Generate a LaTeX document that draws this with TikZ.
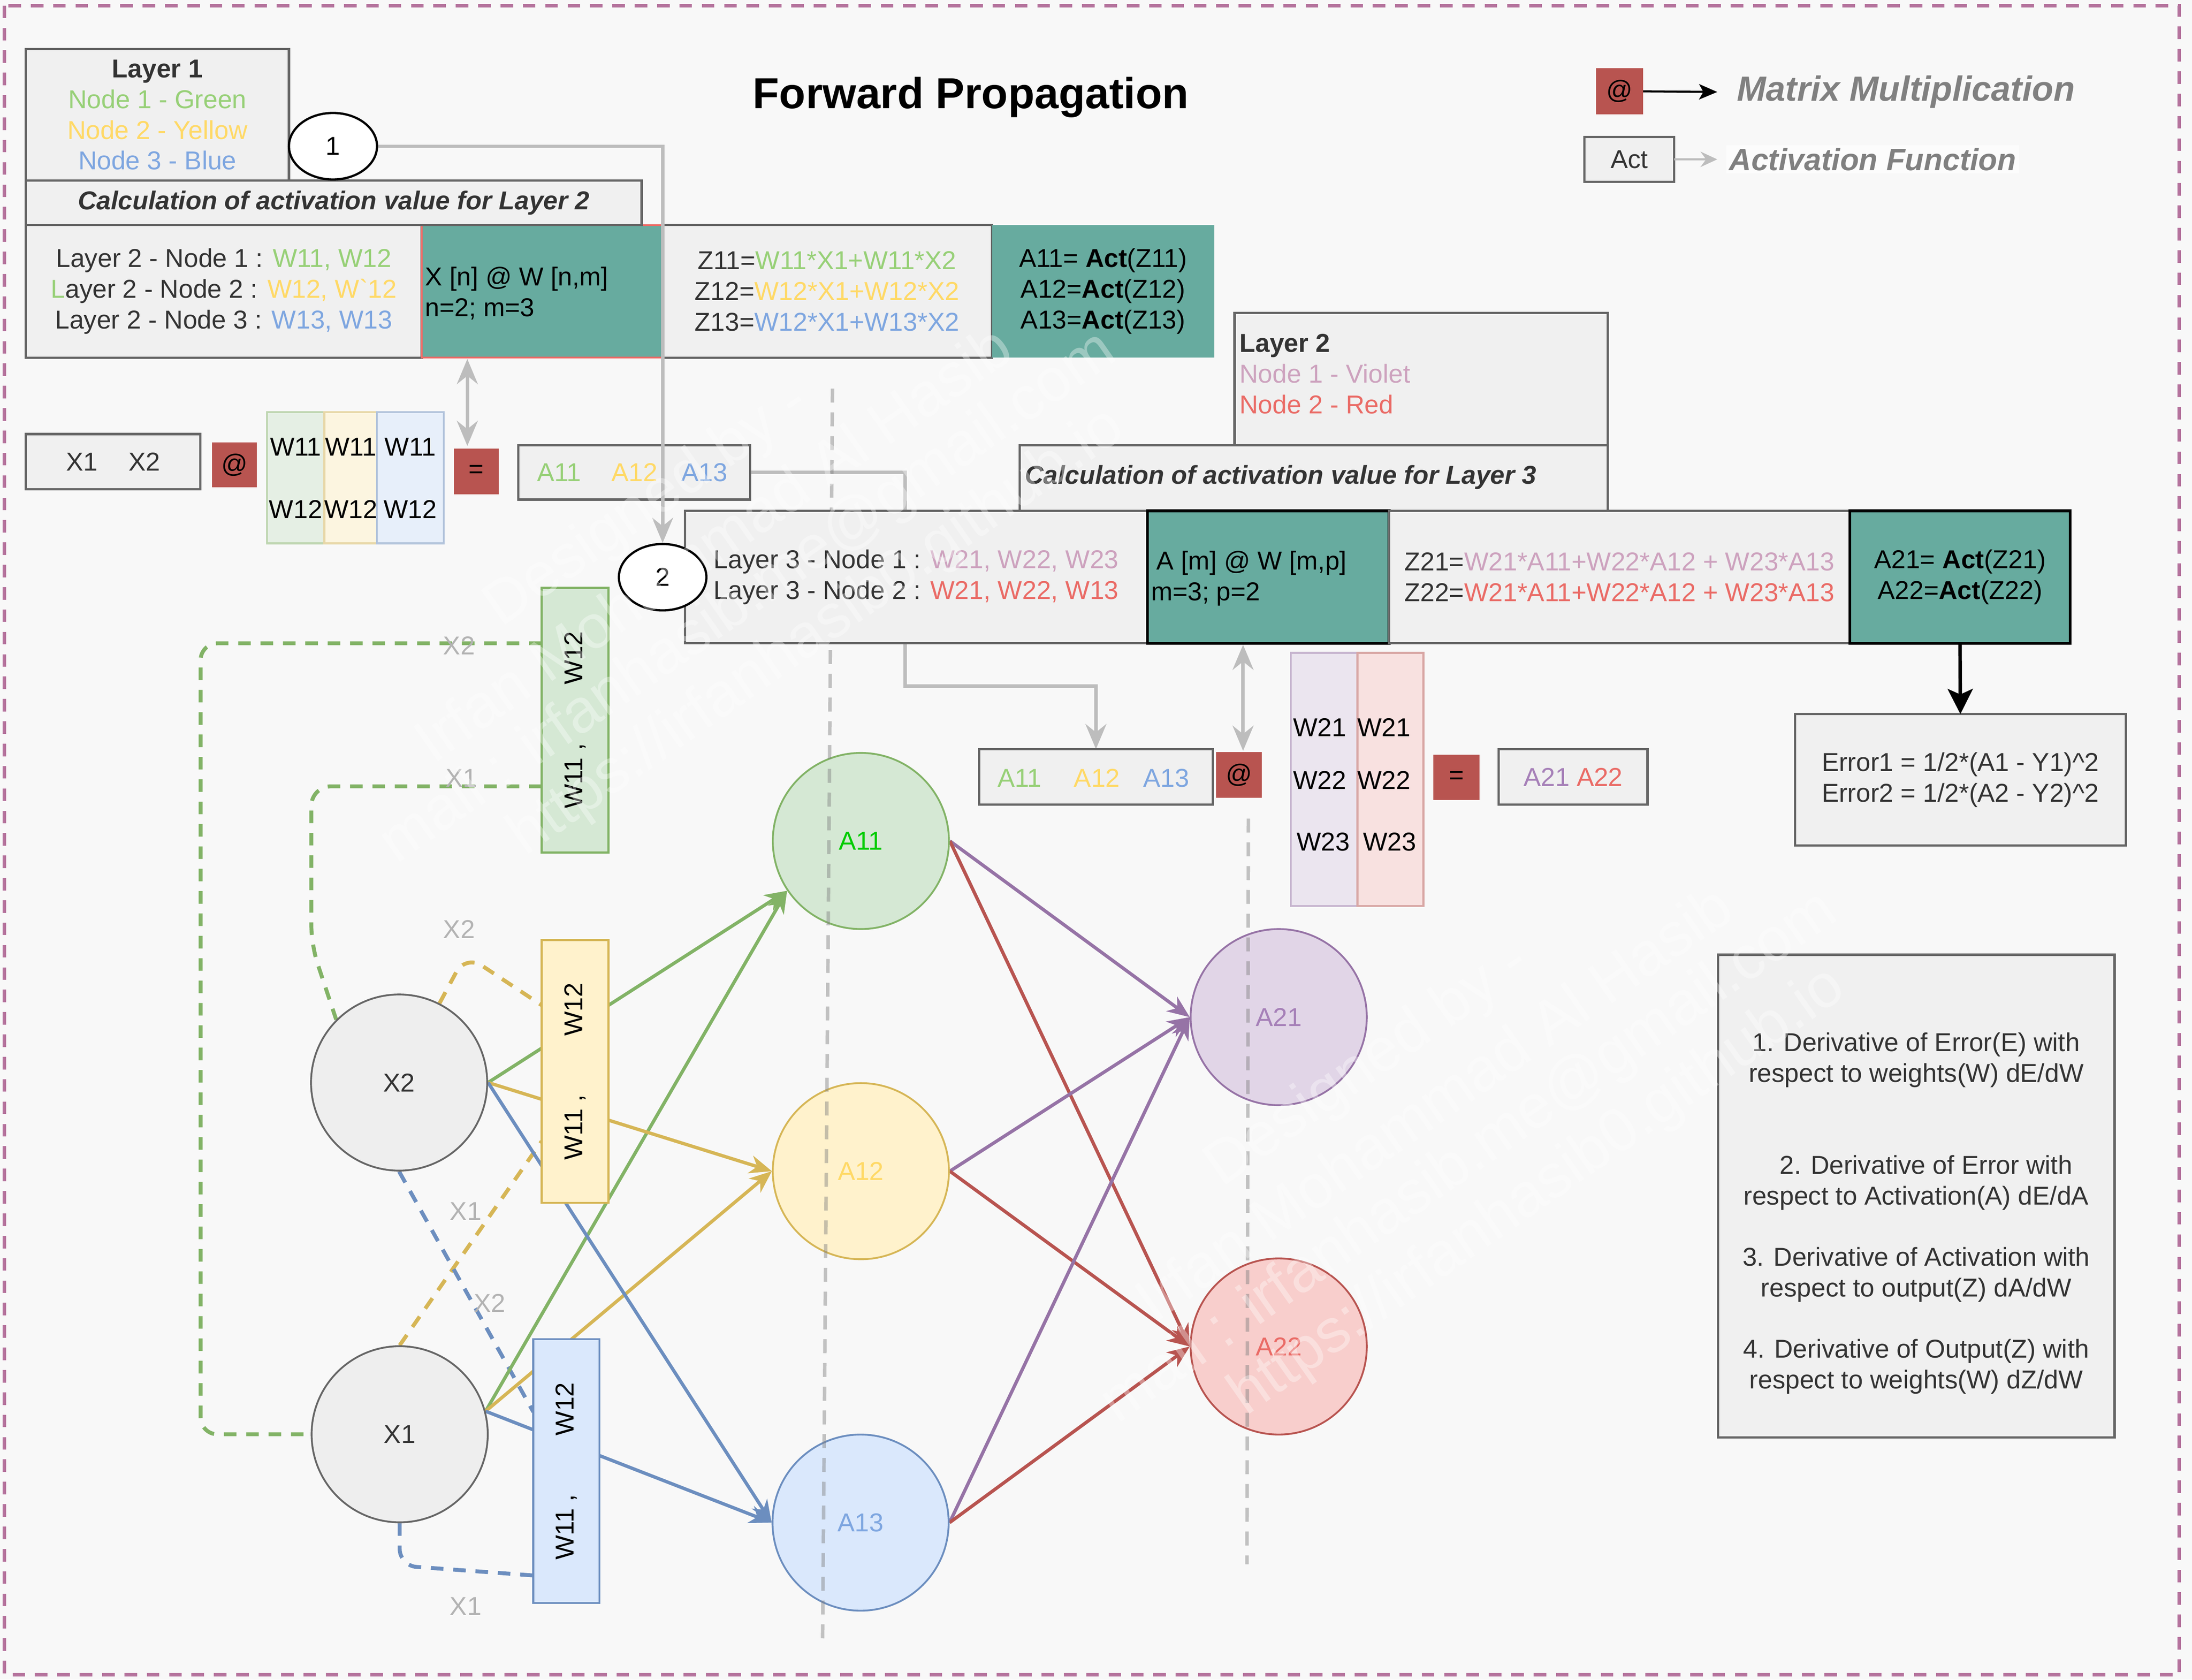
\documentclass[tikz,border=0pt]{standalone}
\usepackage{fontspec}
\setmainfont{Liberation Sans}[Ligatures=TeXOff]
\usetikzlibrary{arrows.meta,shapes.geometric}
\definecolor{cBg}{HTML}{F8F8F8}
\definecolor{cBox}{HTML}{F0F0F0}
\definecolor{cLine}{HTML}{666666}
\definecolor{cDark}{HTML}{333333}
\definecolor{cTeal}{HTML}{67AB9F}
\definecolor{cRedBox}{HTML}{B85450}
\definecolor{cRedLine}{HTML}{EA6B66}
\definecolor{tGreen}{HTML}{97D077}
\definecolor{tYellow}{HTML}{FFD966}
\definecolor{tBlue}{HTML}{7EA6E0}
\definecolor{tViolet}{HTML}{CDA2BE}
\definecolor{tRed}{HTML}{EA6B66}
\definecolor{gFill}{HTML}{D5E8D4}\definecolor{gLine}{HTML}{82B366}
\definecolor{yFill}{HTML}{FFF2CC}\definecolor{yLine}{HTML}{D6B656}
\definecolor{bFill}{HTML}{DAE8FC}\definecolor{bLine}{HTML}{6C8EBF}
\definecolor{pFill}{HTML}{E1D5E7}\definecolor{pLine}{HTML}{9673A6}
\definecolor{rFill}{HTML}{F8CECC}\definecolor{rLine}{HTML}{B85450}
\definecolor{xFill}{HTML}{EEEEEE}
\definecolor{tAoo}{HTML}{00CC00}
\definecolor{tAto}{HTML}{A680B8}
\definecolor{cBorder}{HTML}{B5739D}
\definecolor{cLegend}{HTML}{808080}
\definecolor{cConn}{HTML}{BDBDBD}
\definecolor{cLab}{HTML}{B3B3B3}
\newcommand{\myfs}{\fontsize{18.5}{22}\selectfont}
\pgfdeclarelayer{bgl}
\pgfdeclarelayer{behind}
\pgfsetlayers{bgl,behind,main}
\begin{document}
\begin{tikzpicture}[x=1pt,y=-1pt,font=\myfs,
  box/.style={draw=cLine,fill=cBox,line width=1.6pt,anchor=north west,inner sep=0pt,outer sep=0pt,text=cDark},
  tealcell/.style={fill=cTeal,anchor=north west,inner sep=0pt,outer sep=0pt,text=black},
  redsq/.style={fill=cRedBox,anchor=north west,inner sep=0pt,outer sep=0pt,text=black},
  colcell/.style={anchor=north west,inner sep=0pt,outer sep=0pt,line width=1.4pt},
  txt/.style={inner sep=0pt,text=cDark},
  circ/.style={circle,minimum size=126pt,inner sep=0pt,line width=1.3pt},
  netarrow/.style={line width=2.4pt,-{Stealth[length=16pt,width=13pt,inset=5pt]}},
  dashnet/.style={line width=2.8pt,dash pattern=on 9pt off 7pt},
  conn/.style={draw=cConn,line width=2.5pt,-{Stealth[length=18pt,width=15pt,inset=6pt]}},
  conndbl/.style={draw=cConn,line width=2.5pt,{Stealth[length=18pt,width=15pt,inset=6pt]}-{Stealth[length=18pt,width=15pt,inset=6pt]}},
  vdash/.style={draw=black!50,draw opacity=0.45,line width=2.5pt,dash pattern=on 10pt off 7pt},
  lab/.style={inner sep=0pt,text=cLab},
  wm/.style={inner sep=0pt,text=white,opacity=0.35,rotate=35,font=\fontsize{44}{48}\selectfont}]
\useasboundingbox (0,0) rectangle (1568,1201.5);
\begin{pgfonlayer}{bgl}
\fill[cBg] (0,0) rectangle (1568,1201.5);
\end{pgfonlayer}
\draw[cBorder,line width=2.5pt,dash pattern=on 9pt off 7pt] (3,4) rectangle (1559,1198);

% ---------- title and legend
\node[anchor=base,inner sep=0pt,font=\bfseries\fontsize{31}{36}\selectfont] (title) at (694.4,77.7) {Forward Propagation};
\node[redsq,minimum width=33.5pt,minimum height=33.1pt] (at3) at (1141.8,48.8) {@};
\coordinate (legA) at (1228.4,65.8);
\draw[line width=1.5pt,-{Stealth[length=13pt,width=11pt,inset=3pt]}] (at3.east) -- (legA);
\node[anchor=west,inner sep=0pt,text=cLegend,font=\bfseries\itshape\fontsize{25}{28}\selectfont] (legAt) at (1242.3,65.8) {Matrix Multiplication};
\node[box,minimum width=64.2pt,minimum height=32.1pt] (act) at (1133.4,97.9) {Act};
\coordinate (legB) at (1228.4,114);
\draw[cConn,line width=1.5pt,-{Stealth[length=12pt,width=11pt,inset=4pt]}] (act.east) -- (legB);
\node[anchor=west,inner sep=2pt,fill=white,fill opacity=0.6,text opacity=1,text=cLegend,font=\bfseries\itshape\fontsize{22}{26}\selectfont] (legBt) at (1234.7,114) {Activation Function};

% ---------- network circles
\node[circ,fill=xFill,draw=cLine,text=cDark] (X2) at (285.5,774.4) {X2};
\node[circ,fill=xFill,draw=cLine,text=cDark] (X1) at (285.9,1026) {X1};
\node[circ,fill=gFill,draw=gLine,text=tAoo] (A11) at (615.8,601.6) {A11};
\node[circ,fill=yFill,draw=yLine,text=tYellow] (A12) at (615.8,837.8) {A12};
\node[circ,fill=bFill,draw=bLine,text=tBlue] (A13) at (615.6,1089.2) {A13};
\node[circ,fill=pFill,draw=pLine,text=tAto] (A21) at (914.7,727.6) {A21};
\node[circ,fill=rFill,draw=rLine,text=tRed] (A22) at (914.7,963.2) {A22};

% ---------- gray dashed guides
\coordinate (g1a) at (595.5,278); \coordinate (g1b) at (588.4,1175);
\coordinate (g2a) at (893,585.6); \coordinate (g2b) at (892,1119);
\draw[vdash] (g1a) -- (g1b);
\draw[vdash] (g2a) -- (g2b);

% ---------- layer 1 block
\node[box,minimum width=188.2pt,minimum height=94.1pt,align=center] (layer1) at (18.5,35.1)
  {\textbf{Layer 1}\\{\color{tGreen}Node 1 - Green}\\{\color{tYellow}Node 2 - Yellow}\\{\color{tBlue}Node 3 - Blue}};
\node[box,minimum width=283.2pt,minimum height=94.8pt,align=center] (r1a) at (18.5,161)
  {Layer 2 - Node 1 : {\color{tGreen}W11, W12}\\{\color{tGreen}L}ayer 2 - Node 2 : {\color{tYellow}W12, W`12}\\Layer 2 - Node 3 : {\color{tBlue}W13, W13}};
\node[tealcell,draw=cRedLine,line width=1.4pt,minimum width=171.9pt,minimum height=94.8pt] (r1b) at (301.7,161) {};
\node[txt,text=black,anchor=west,align=left] (r1bt) at (304,209.8) {X [n] @ W [n,m]\\n=2; m=3};
\node[box,minimum width=236pt,minimum height=94.8pt,align=center] (r1c) at (473.6,161)
  {Z11={\color{tGreen}W11*X1+W11*X2}\\Z12={\color{tYellow}W12*X1+W12*X2}\\Z13={\color{tBlue}W12*X1+W13*X2}};
\node[tealcell,minimum width=158.9pt,minimum height=94.8pt,align=center] (r1d) at (709.6,161)
  {A11= \textbf{Act}(Z11)\\A12=\textbf{Act}(Z12)\\A13=\textbf{Act}(Z13)};
\node[box,minimum width=440.5pt,minimum height=31.8pt,font=\myfs\bfseries\itshape] (calc2) at (18.5,129.2)
  {Calculation of activation value for Layer 2};
\node[ellipse,draw=black,fill=white,line width=1.6pt,minimum width=63pt,minimum height=47.6pt,inner sep=0pt] (c1) at (238.2,104.6) {1};

% ---------- first matrix product
\node[box,minimum width=124.8pt,minimum height=39.4pt] (x12) at (18.5,310.5) {X1\hspace{22pt}X2};
\node[redsq,minimum width=32pt,minimum height=32.1pt] (at1) at (151.7,316.5) {@};
\node[colcell,fill=gFill!55!cBg,draw=gLine!50!cBg,minimum width=41pt,minimum height=94pt] (wc1) at (191,294.7) {};
\node[colcell,fill=yFill!55!cBg,draw=yLine!50!cBg,minimum width=37.7pt,minimum height=94pt] (wc2) at (232,294.7) {};
\node[colcell,fill=bFill!55!cBg,draw=bLine!50!cBg,minimum width=47.7pt,minimum height=94pt] (wc3) at (269.7,294.7) {};
\node[txt,text=black] at (211.5,319.8) {W11};
\node[txt,text=black] at (250.9,319.8) {W11};
\node[txt,text=black] at (293.5,319.8) {W11};
\node[txt,text=black] at (211.5,364.2) {W12};
\node[txt,text=black] at (250.9,364.2) {W12};
\node[txt,text=black] at (293.5,364.2) {W12};
\node[redsq,minimum width=32pt,minimum height=32.6pt] (eq1) at (324.7,321) {=};
\node[box,minimum width=165.7pt,minimum height=38.9pt] (a1box) at (370.8,318.5) {};
\node[txt,text=tGreen] at (400,338) {A11};
\node[txt,text=tYellow] at (454,338) {A12};
\node[txt,text=tBlue] at (504,338) {A13};
\draw[conndbl,shorten <=1pt,shorten >=2pt] (334.3,0 |- r1b.south) -- (334.3,0 |- eq1.north);

% ---------- layer 2 block
\node[box,minimum width=267pt,minimum height=94.7pt] (layer2) at (883.1,223.7) {};
\node[txt,anchor=west,align=left] (layer2t) at (886.5,267.6)
  {\textbf{Layer 2}\\{\color{tViolet}Node 1 - Violet}\\{\color{tRed}Node 2 - Red}};
\node[box,minimum width=420.6pt,minimum height=46.9pt] (calc3) at (729.5,318.4) {};
\node[txt,anchor=west,font=\myfs\bfseries\itshape] (calc3t) at (732.9,341.5) {Calculation of activation value for Layer 3};
\node[box,minimum width=330.8pt,minimum height=94.8pt,align=center] (r2a) at (490,365.4)
  {Layer 3 - Node 1 : {\color{tViolet}W21, W22, W23}\\Layer 3 - Node 2 : {\color{tRed}W21, W22, W13}};
\node[tealcell,draw=black,line width=2pt,minimum width=172.9pt,minimum height=94.8pt] (r2b) at (820.8,365.4) {};
\node[txt,text=black,anchor=west,align=left] (r2bt) at (823.2,413.7) {\hspace*{4pt}A [m] @ W [m,p]\\m=3; p=2};
\node[box,minimum width=329.6pt,minimum height=94.8pt,align=center] (r2c) at (993.7,365.4)
  {Z21={\color{tViolet}W21*A11+W22*A12 + W23*A13}\\Z22={\color{tRed}W21*A11+W22*A12 + W23*A13}};
\node[tealcell,draw=black,line width=2pt,minimum width=157.5pt,minimum height=94.8pt,align=center] (r2d) at (1323.3,365.4)
  {A21= \textbf{Act}(Z21)\\A22=\textbf{Act}(Z22)};
\node[ellipse,draw=black,fill=white,line width=1.6pt,minimum width=62.6pt,minimum height=47.5pt,inner sep=0pt] (c2) at (474,412.9) {2};

% ---------- second matrix product
\node[box,minimum width=167.1pt,minimum height=39.7pt] (a2box) at (700.4,535.9) {};
\node[txt,text=tGreen] at (729.3,556.5) {A11};
\node[txt,text=tYellow] at (784.7,556.5) {A12};
\node[txt,text=tBlue] at (834.3,556.5) {A13};
\node[redsq,minimum width=32.7pt,minimum height=32.7pt] (at2) at (869.9,538.1) {@};
\node[colcell,fill=pFill!55!cBg,draw=pLine!50!cBg,minimum width=47.7pt,minimum height=181pt] (wd1) at (923.3,467) {};
\node[colcell,fill=rFill!55!cBg,draw=rLine!50!cBg,minimum width=47.2pt,minimum height=181pt] (wd2) at (971,467) {};
\node[txt,text=black] at (944,520.5) {W21};
\node[txt,text=black] at (990,520.5) {W21};
\node[txt,text=black] at (944,558) {W22};
\node[txt,text=black] at (990,558) {W22};
\node[txt,text=black] at (946.5,602.1) {W23};
\node[txt,text=black] at (994,602.1) {W23};
\node[redsq,minimum width=32.8pt,minimum height=32.4pt] (eq2) at (1025.4,539.9) {=};
\node[box,minimum width=106.4pt,minimum height=39.7pt] (a3box) at (1072.1,535.9) {{\color{tAto}A21} {\color{tRed}A22}};
\draw[conndbl,shorten <=1pt,shorten >=1pt] (889.2,0 |- r2b.south) -- (889.2,0 |- at2.north);

% ---------- error and derivative boxes
\node[box,minimum width=236.6pt,minimum height=93.9pt,align=center] (err) at (1284,510.8)
  {Error1 = 1/2*(A1 - Y1)\textasciicircum 2\\Error2 = 1/2*(A2 - Y2)\textasciicircum 2};
\draw[line width=2.5pt,-{Stealth[length=18pt,width=18pt,inset=4pt]}] (r2d.south) -- (err.north);
\node[box,minimum width=283.7pt,minimum height=345.4pt] (der) at (1228.9,683) {};
\node[txt,align=center] (d1) at (1370.7,758.2) {1. Derivative of Error(E) with\\respect to weights(W) dE/dW};
\node[txt,align=center] (d2) at (1370.7,846.2) {\hspace*{14pt}2. Derivative of Error with\\respect to Activation(A) dE/dA};
\node[txt,align=center] (d3) at (1370.7,911.8) {3. Derivative of Activation with\\respect to output(Z) dA/dW};
\node[txt,align=center] (d4) at (1370.7,977.7) {4. Derivative of Output(Z) with\\respect to weights(W) dZ/dW};

% ---------- weight boxes of the network
\node[box,fill=gFill,draw=gLine,line width=1.4pt,minimum width=47.8pt,minimum height=189.4pt] (gW) at (387.4,420.4) {};
\node[rotate=90,inner sep=0pt,text=black] at (gW.center) {W11\hspace{5pt},\hspace{42pt}W12};
\node[box,fill=yFill,draw=yLine,line width=1.4pt,minimum width=47.8pt,minimum height=188.1pt] (yW) at (387.4,672.4) {};
\node[rotate=90,inner sep=0pt,text=black] at (yW.center) {W11\hspace{5pt},\hspace{42pt}W12};
\node[box,fill=bFill,draw=bLine,line width=1.4pt,minimum width=47.3pt,minimum height=188.8pt] (bW) at (381.5,958) {};
\node[rotate=90,inner sep=0pt,text=black] at (bW.center) {W11\hspace{5pt},\hspace{42pt}W12};

% ---------- labels on dashed inputs
\node[lab] at (328.4,461.7) {X2};
\node[lab] at (330.1,556.5) {X1};
\node[lab] at (328.4,664.9) {X2};
\node[lab] at (333.1,866.5) {X1};
\node[lab] at (350.3,932.2) {X2};
\node[lab] at (333.1,1149.1) {X1};

% ---------- connectors behind
\coordinate (k1) at (647.4,490.7);
\begin{pgfonlayer}{behind}
\draw[conn] (a1box.east) -| (k1) -| (a2box.north);
\draw[dashnet,gLine,rounded corners=12pt] (gW.west |- 0,460.2) -- (143.5,460.2) -- (143.5,1026) -- (X1.west);
\draw[dashnet,gLine,rounded corners=14pt] (gW.west |- 0,562.5) -- (222.7,562.5) -- (222.7,676) -- (X2.135);
\draw[dashnet,yLine,rounded corners=14pt] (X2.63) -- (333,683) -- (yW.west |- 0,719);
\draw[dashnet,yLine] (X1.north) -- (yW.west |- 0,816.5);
\draw[dashnet,bLine] (X2.south) -- (bW.west |- 0,1010);
\draw[dashnet,bLine,rounded corners=12pt] (X1.south) -- (285.9,1120) -- (bW.west |- 0,1127);
\draw[netarrow,gLine] (X2.east) -- (A11.214);
\draw[netarrow,gLine] (X1.15) -- (A11.214);
\draw[netarrow,yLine] (X2.east) -- (A12.west);
\draw[netarrow,yLine] (X1.15) -- (A12.west);
\draw[netarrow,bLine] (X2.east) -- (A13.west);
\draw[netarrow,bLine] (X1.15) -- (A13.west);
\foreach \a in {A11,A12,A13} {
  \draw[netarrow,pLine] (\a.east) -- (A21.west);
  \draw[netarrow,rLine] (\a.east) -- (A22.west);
}
\end{pgfonlayer}
\draw[conn] (c1.east) -| (c2.north);

% ---------- watermark
\node[wm] at (463,362) {Designed by -};
\node[wm] at (509.4,388.1) {Irfan Mohammad Al Hasib};
\node[wm] at (535.8,428.2) {mail : irfanhasib.me@gmail.com};
\node[wm] at (584.6,452.6) {https://irfanhasib0.github.io};
\node[wm] at (978.7,762.3) {Designed by -};
\node[wm] at (1025.1,788.4) {Irfan Mohammad Al Hasib};
\node[wm] at (1051.5,828.5) {mail : irfanhasib.me@gmail.com};
\node[wm] at (1100.3,852.9) {https://irfanhasib0.github.io};
\end{tikzpicture}
\end{document}
